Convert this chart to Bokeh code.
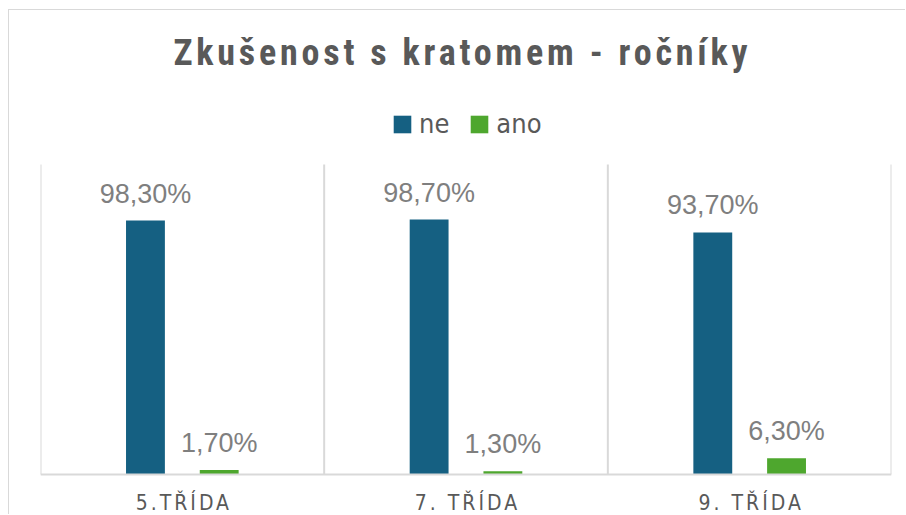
from bokeh.plotting import figure
from bokeh.models import (ColumnDataSource, FactorRange, Span, Label, LabelSet,
                          Legend, LegendItem, CustomJS)
from bokeh.transform import dodge
from bokeh.core.properties import value
from bokeh.document import Document
from bokeh.embed import file_html
from bokeh.resources import INLINE

# ---- data ----
categories = ["5.TŘÍDA", "7. TŘÍDA", "9. TŘÍDA"]
series_names = ["ne", "ano"]
ne_values = [98.3, 98.7, 93.7]
ano_values = [1.7, 1.3, 6.3]
title_text = "Zkušenost s kratomem - ročníky"
y_axis_max = 120

colors = {"ne": "#156082", "ano": "#4EA72E"}
TITLE_FONT = '"Roboto Condensed", "Open Sans Condensed", "Noto Sans Condensed", "DejaVu Sans Condensed", sans-serif'
NARROW = '"DejaVu Sans Condensed", sans-serif'
REG = '"Liberation Sans", Arial, sans-serif'

# ---- layout (pixels) ----
W, H = 897, 505            # canvas, placed at (9, 10) inside the page
FRAME_L, FRAME_R = 31, 882  # plot area left/right inside the canvas
Y0_PX, YMAX_PX = 464, 154   # canvas y of value 0 and of y_axis_max
ppu = (Y0_PX - YMAX_PX) / y_axis_max
y_start = -(H - Y0_PX) / ppu
y_end = y_axis_max + YMAX_PX / ppu

TITLE_LS = 3.8   # letter spacing, px
CAT_LS = 3.0


def fmt(v):
    return f"{v:.2f}".replace(".", ",") + "%"


src = ColumnDataSource(dict(
    cat=categories,
    ne=ne_values,
    ano=ano_values,
    ne_lbl=[fmt(v) for v in ne_values],
    ano_lbl=[fmt(v) for v in ano_values],
    cat_dx=[-(len(c) - 1) * CAT_LS / 2 for c in categories],
))

p = figure(x_range=FactorRange(*categories, range_padding=0), y_range=(y_start, y_end),
           width=W, height=H, output_backend="svg", toolbar_location=None,
           min_border_left=FRAME_L, min_border_right=W - FRAME_R, min_border_top=0,
           min_border_bottom=0)
p.styles = {"border-left": "1px solid #d9d9d9", "border-top": "1px solid #d9d9d9",
            "margin-left": "8px", "margin-top": "9px"}
p.xaxis.visible = False
p.yaxis.visible = False
p.xgrid.visible = False
p.ygrid.visible = False
p.outline_line_color = None

# category separators (synthetic coordinates of the factor range) and baseline
n = len(categories)
p.segment(x0=list(range(n + 1)), x1=list(range(n + 1)), y0=[0] * (n + 1),
          y1=[y_axis_max] * (n + 1), line_color="#d9d9d9", line_width=2)
p.add_layout(Span(location=0, dimension="width", line_color="#d9d9d9", line_width=2))

off = 0.13
bw = 0.137
r_ne = p.vbar(x=dodge("cat", -off, range=p.x_range), top="ne", width=bw, source=src,
              fill_color=colors["ne"], line_color=None)
r_ano = p.vbar(x=dodge("cat", off, range=p.x_range), top="ano", width=bw, source=src,
               fill_color=colors["ano"], line_color=None)

for key, o in (("ne", -off), ("ano", off)):
    p.add_layout(LabelSet(x=dodge("cat", o, range=p.x_range), y=key, text=key + "_lbl",
                          source=src, y_offset=18, text_align="center",
                          text_baseline="alphabetic", text_font=value(REG),
                          text_font_size="27px", text_color="#7f7f7f"))

p.add_layout(LabelSet(x="cat", y=0, y_offset=-35, x_offset="cat_dx", text="cat",
                      source=src, text_align="center", text_baseline="alphabetic",
                      text_font=value(NARROW), text_font_size="21px",
                      text_color="#595959"))

p.add_layout(Label(x=420 - (len(title_text) - 1) * TITLE_LS / 2, y=463,
                   x_units="screen", y_units="screen", text=title_text,
                   text_align="center", text_baseline="alphabetic",
                   text_font=TITLE_FONT, text_font_size="36px",
                   text_font_style="bold", text_color="#595959"))

legend = Legend(items=[LegendItem(label=series_names[0], renderers=[r_ne]),
                       LegendItem(label=series_names[1], renderers=[r_ano])],
                orientation="horizontal", location=(351, 376),
                padding=0, margin=0, border_line_color=None,
                background_fill_alpha=0, glyph_width=22, glyph_height=22,
                label_standoff=6, spacing=19, label_text_font=NARROW,
                label_text_font_size="27px", label_text_color="#595959")
p.add_layout(legend)

js = CustomJS(code="""
const spacing = {"36px": "3.8px", "21px": "3px"};
function apply(root) {
  for (const t of root.querySelectorAll('text')) {
    const fs = t.getAttribute('font-size');
    if (fs in spacing) t.setAttribute('letter-spacing', spacing[fs]);
  }
  for (const el of root.querySelectorAll('*')) {
    if (el.shadowRoot) apply(el.shadowRoot);
  }
}
let n = 0;
const h = setInterval(() => { apply(document); if (++n > 40) clearInterval(h); }, 50);
apply(document);
""")

doc = Document()
doc.add_root(p)
doc.js_on_event("document_ready", js)

open("out.html", "w").write(file_html(p, INLINE))
